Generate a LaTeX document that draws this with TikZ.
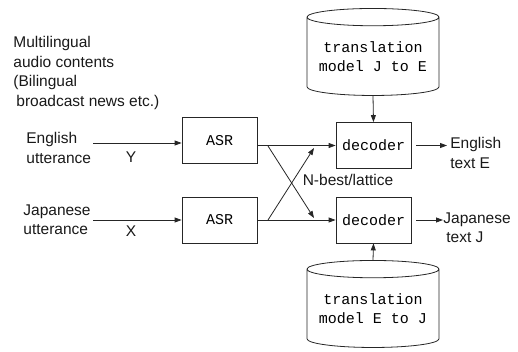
\documentclass[tikz,border=0pt]{standalone}
\usepackage{fontspec}
\setmainfont{Liberation Sans}
\setmonofont{Liberation Mono}
\usetikzlibrary{arrows.meta,shapes.geometric,calc}
\begin{document}
\begin{tikzpicture}[x=1pt,y=-1pt,
  line width=0.8pt, draw=black!85,
  lbl/.style={font=\fontsize{15.5}{19.5}\selectfont, inner sep=0pt, align=left, text=black!90},
  mono/.style={font=\ttfamily\fontsize{15}{18.5}\selectfont},
  box/.style={draw=black!85, rectangle, mono, minimum width=75pt, minimum height=46pt, inner sep=0pt},
  store/.style={draw=black!85, cylinder, shape border rotate=90, aspect=0.16,
    minimum width=132pt, minimum height=87pt, mono, align=center, inner sep=0pt},
  arr/.style={draw=black!85, -{Triangle[length=7pt,width=5pt]}}]
\useasboundingbox (0,0) rectangle (518,352);

% source description
\node[lbl, anchor=north west] (src) at (13,36)
  {Multilingual\\audio contents\\(Bilingual\\\hspace{3pt}broadcast news etc.)};

% recognisers and decoders
\node[box] (asr1) at (219.5,140.5) {ASR};
\node[box] (asr2) at (219.5,220) {ASR};
\node[box] (dec1) at (373.5,145.5) {decoder};
\node[box] (dec2) at (373.5,220) {decoder};

% translation models
\node[store] (tm1) at (373,56.5) {translation\\model J to E};
\node[store] (tm2) at (373,308.5) {translation\\model E to J};

% input utterances
\node[lbl, anchor=north west] (en) at (26,132) {English\\utterance};
\node[lbl, anchor=north west] (ja) at (23,204) {Japanese\\utterance};
\coordinate (in1) at (93,143);
\coordinate (in2) at (93,220);
\draw[arr] (in1) -- (in1 -| asr1.west);
\draw[arr] (in2) -- (in2 -| asr2.west);
\node[lbl] (y) at (131,157) {Y};
\node[lbl] (x) at (131,231) {X};

% hypotheses to decoders
\draw[arr] (asr1.east |- dec1.west) -- (dec1.west);
\draw[arr] (asr2.east |- dec2.west) -- (dec2.west);
\coordinate (s1) at (268,146);
\coordinate (s2) at (268,220);
\coordinate (e1) at (314,148);
\coordinate (e2) at (314,218);
\draw[arr] (s1) -- (e2);
\draw[arr] (s2) -- (e1);
\node[lbl] (nb) at (348,180) {N-best/lattice};

% models feed the decoders
\draw[arr] (tm1.south) -- (dec1.north);
\draw[arr] (tm2.north) -- (dec2.south);

% outputs
\node[lbl, anchor=north west] (outE) at (450,137) {English\\text E};
\node[lbl, anchor=north west] (outJ) at (443,212) {Japanese\\\hspace{3pt}text J};
\draw[arr, shorten <=5pt, shorten >=3pt] (dec1.east) -- (outE.west |- dec1.east);
\draw[arr, shorten <=5pt] (dec2.east) -- (outJ.west |- dec2.east);
\end{tikzpicture}
\end{document}
